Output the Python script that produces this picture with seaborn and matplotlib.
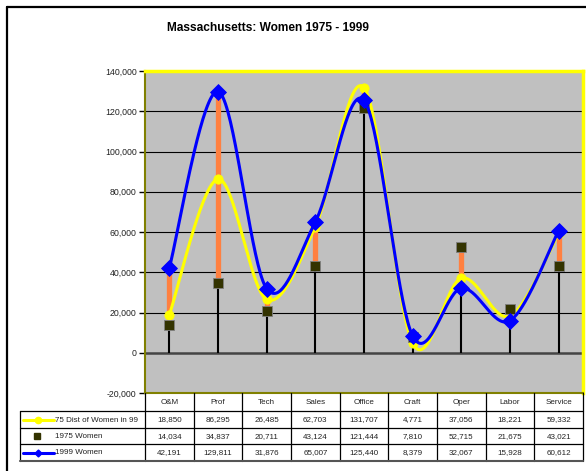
import numpy as np
import pandas as pd
import matplotlib
matplotlib.use("Agg")
import matplotlib.pyplot as plt
import seaborn as sns

categories = ["O&M", "Prof", "Tech", "Sales", "Office", "Craft", "Oper", "Labor", "Service"]
dist75_in99 = [18850, 86295, 26485, 62703, 131707, 4771, 37056, 18221, 59332]
women1975 = [14034, 34837, 20711, 43124, 121444, 7810, 52715, 21675, 43021]
women1999 = [42191, 129811, 31876, 65007, 125440, 8379, 32067, 15928, 60612]
series_names = ["75 Dist of Women in 99", "1975 Women", "1999 Women"]
yticks = [-20000, 0, 20000, 40000, 60000, 80000, 100000, 120000, 140000]
title = "Massachusetts: Women 1975 - 1999"

sns.set_style("white")
plt.rcParams["font.family"] = ["Liberation Sans", "DejaVu Sans"]

W, H = 586, 471
fig = plt.figure(figsize=(W / 100, H / 100), dpi=100)

# plot area in pixels
L, T, R, B = 145, 71, 583, 393
ax = fig.add_axes([L / W, 1 - B / H, (R - L) / W, (B - T) / H])
ax.set_facecolor("#C0C0C0")

x = np.arange(len(categories))


def smooth(xs, ys, n=40):
    pts = np.column_stack([xs, ys]).astype(float)
    P = np.vstack([pts[0], pts, pts[-1]])
    out = []
    for i in range(len(pts) - 1):
        p0, p1, p2, p3 = P[i], P[i + 1], P[i + 2], P[i + 3]
        c1 = p1 + (p2 - p0) / 6
        c2 = p2 - (p3 - p1) / 6
        t = np.linspace(0, 1, n)[:, None]
        seg = (1 - t) ** 3 * p1 + 3 * (1 - t) ** 2 * t * c1 + 3 * (1 - t) * t ** 2 * c2 + t ** 3 * p2
        out.append(seg if i == 0 else seg[1:])
    return np.vstack(out)


# gridlines
for yv in yticks[2:-1]:
    ax.axhline(yv, color="black", lw=0.8, zorder=1)
ax.axhline(0, color="#444444", lw=1.8, zorder=1)

allv = np.array([dist75_in99, women1975, women1999])
lo = allv.min(axis=0)
hi = allv.max(axis=0)
# drop lines
ax.vlines(x, 0, hi, color="black", lw=1.5, zorder=2)
# high-low lines
ax.vlines(x, lo, hi, color="#FF8040", lw=3.8, zorder=3)

# yellow smooth line
sy = smooth(x, dist75_in99)
dfy = pd.DataFrame({"x": sy[:, 0], "y": sy[:, 1]})
sns.lineplot(data=dfy, x="x", y="y", sort=False, color="#FFFF00", lw=2.2, ax=ax, zorder=4)
sns.scatterplot(x=x, y=dist75_in99, marker="o", color="#FFFF00", edgecolor="#FFFF00", s=45, ax=ax, zorder=5)
# 1975 squares
sns.scatterplot(x=x, y=women1975, marker="s", color="#333300", edgecolor="#808080", linewidth=0.6, s=60, ax=ax, zorder=6)
# blue smooth line
sb = smooth(x, women1999)
dfb = pd.DataFrame({"x": sb[:, 0], "y": sb[:, 1]})
sns.lineplot(data=dfb, x="x", y="y", sort=False, color="#0000FF", lw=2.2, ax=ax, zorder=7)
sns.scatterplot(x=x, y=women1999, marker="D", color="#0000FF", edgecolor="#0000FF", s=65, ax=ax, zorder=8)

ax.set_xlim(-0.5, len(categories) - 0.5)
ax.set_ylim(-20000, 140000)
ax.set_yticks(yticks)
ax.set_yticklabels([f"{v:,}" for v in yticks], fontsize=6.3, color="#222222")
ax.set_xticks([])
ax.set_xlabel("")
ax.set_ylabel("")
ax.tick_params(axis="y", length=4, width=1, color="black", pad=2, left=True)
for s in ["left", "bottom"]:
    ax.spines[s].set_color("#808000")
    ax.spines[s].set_linewidth(1.5)
for s in ["top", "right"]:
    ax.spines[s].set_color("#FFFF00")
    ax.spines[s].set_linewidth(2.5)
ax.legend_ = None

# overlay in pixel coordinates for borders and data table
ov = fig.add_axes([0, 0, 1, 1])
ov.set_xlim(0, W)
ov.set_ylim(H, 0)
ov.axis("off")
ov.patch.set_alpha(0)

# outer border (top and left visible)
ov.plot([6.5, W], [6.5, 6.5], color="black", lw=1.6)
ov.plot([6.5, 6.5], [6.5, H], color="black", lw=1.6)

ov.text(268, 28, title, ha="center", va="center", fontsize=8.6, fontweight="bold", color="black")

# data table
cw = (R - L) / len(categories)
rows_y = [393, 411, 428, 444, 461]
TL = 20
for k in range(len(categories) + 1):
    xx = L + k * cw
    ov.plot([xx, xx], [rows_y[0], rows_y[-1]], color="black", lw=0.9)
ov.plot([TL, TL], [rows_y[1], rows_y[-1]], color="black", lw=0.9)
for yy in rows_y[1:-1]:
    ov.plot([TL, R], [yy, yy], color="black", lw=0.9)
ov.plot([TL, R], [rows_y[-1], rows_y[-1]], color="#555555", lw=1.5)

fs = 5.8
for i, c in enumerate(categories):
    ov.text(L + (i + 0.5) * cw, (rows_y[0] + rows_y[1]) / 2 + 0.5, c, ha="center", va="center", fontsize=fs, color="#222222")
for r, vals in enumerate([dist75_in99, women1975, women1999]):
    yc = (rows_y[r + 1] + rows_y[r + 2]) / 2 + 0.5
    for i, v in enumerate(vals):
        ov.text(L + (i + 0.5) * cw, yc, f"{v:,}", ha="center", va="center", fontsize=fs, color="#222222")
    ov.text(55, yc, series_names[r], ha="left", va="center", fontsize=fs, color="#222222")

yc0 = (rows_y[1] + rows_y[2]) / 2
ov.plot([23, 54], [yc0, yc0], color="#FFFF00", lw=2.2)
ov.plot([38], [yc0], marker="o", color="#FFFF00", ms=4.5)
yc1 = (rows_y[2] + rows_y[3]) / 2
ov.plot([37], [yc1], marker="s", color="#333300", ms=4.5)
yc2 = (rows_y[3] + rows_y[4]) / 2
ov.plot([23, 54], [yc2, yc2], color="#0000FF", lw=2.2)
ov.plot([38], [yc2], marker="D", color="#0000FF", ms=3.5)

fig.savefig("out.png", dpi=100)
